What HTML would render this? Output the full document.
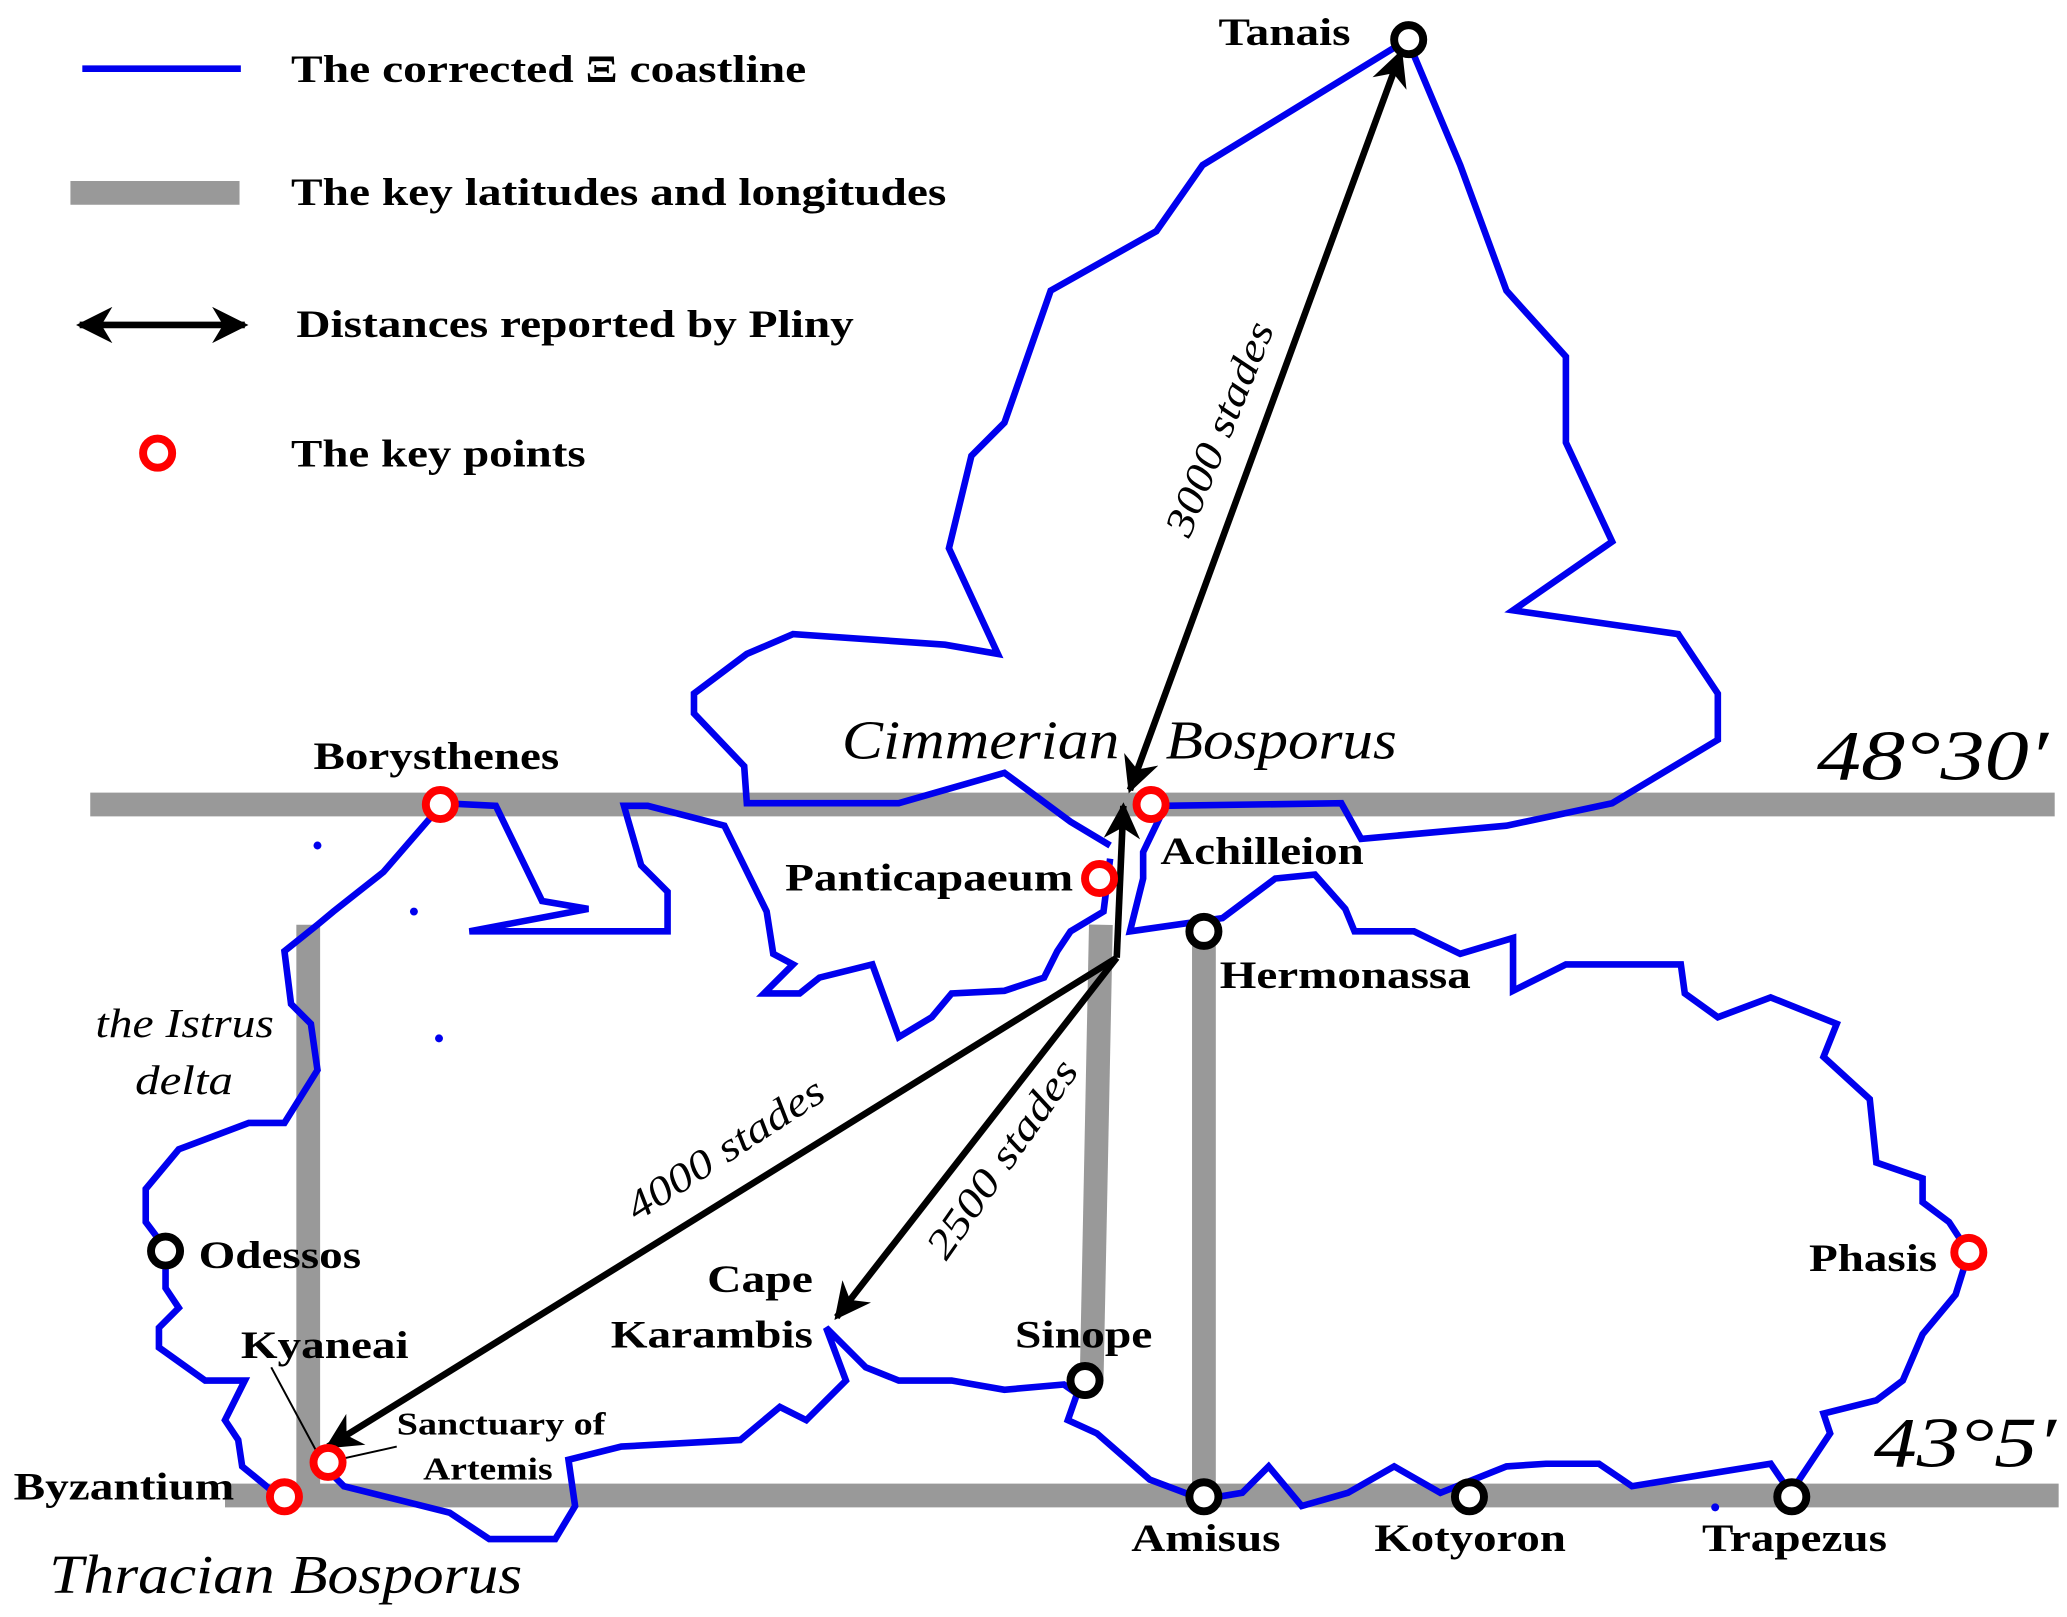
<!DOCTYPE html>
<html><head><meta charset="utf-8"><style>
html,body{margin:0;padding:0;background:#fff}
svg{display:block}
text{font-family:"Liberation Serif",serif;fill:#000}
.b{font-weight:bold;font-size:30px}
.i{font-style:italic}
</style></head><body>
<svg width="2067" height="1617" viewBox="0 0 1564 1224" xmlns="http://www.w3.org/2000/svg">
<defs>
<marker id="a" viewBox="0 0 10 10" refX="9" refY="5" markerWidth="5.5" markerHeight="5.5" orient="auto-start-reverse"><path d="M0,0 L10,5 L0,10 L3,5 Z" fill="#000"/></marker>
</defs>
<g stroke="#999" stroke-width="18" fill="none">
<line x1="68" y1="609" x2="1555" y2="609"/>
<line x1="170" y1="1132" x2="1558" y2="1132"/>
<line x1="233" y1="700" x2="233" y2="1140"/>
<line x1="833" y1="700" x2="826" y2="1045"/>
<line x1="911" y1="700" x2="911" y2="1132"/>
</g>
<g stroke="#0000ee" stroke-width="5" fill="none" stroke-linejoin="miter">
<polyline points="840,640 810,622 760,585 680,608 565,608 563,580 525,540 525,525 565,495 600,480 715,488 755,495 718,415 735,345 760,320 795,220 875,175 910,125 1065,30 1105,125 1140,220 1185,270 1185,335 1220,410 1145,462 1270,480 1300,525 1300,560 1220,608 1140,625 1030,635 1015,608 880,610"/>
<polyline points="840,650 835,690 810,705 800,720 790,740 760,750 720,752 705,770 680,785 660,730 620,740 605,752 578,752 600,730 585,722 580,690 548,625 490,610 472,610 485,655 505,675 505,705 355,705 445,688 410,682 375,610 335,608 290,660 252,690 240,700 215,720 220,760 235,775 240,810 215,850 188,850 135,870 110,900 110,925 125,945 125,975 135,990 120,1005 120,1020 155,1045 185,1045 170,1075 180,1090 183,1110 205,1128"/>
<polyline points="245,1110 260,1125 300,1135 340,1145 370,1165 420,1165 435,1140 430,1105 470,1095 560,1090 590,1065 610,1075 640,1045 625,1005 655,1035 680,1045 720,1045 760,1052 805,1048 815,1055 808,1075 830,1085 870,1120 910,1135 940,1130 960,1110 985,1140 1020,1130 1055,1110 1090,1130 1140,1110 1170,1108 1210,1108 1235,1125 1340,1108 1355,1130 1375,1100 1385,1085 1380,1070 1420,1060 1440,1045 1455,1010 1480,980 1490,948 1475,925 1455,910 1455,892 1420,880 1415,832 1380,800 1390,775 1340,755 1300,770 1275,752 1272,730 1185,730 1145,750 1145,710 1105,722 1070,705 1025,705 1018,688 995,662 965,665 925,695 855,705 865,665 865,645 878,618"/>
<line x1="62" y1="52" x2="182" y2="52"/>
</g>
<g fill="#0000ee"><circle cx="240" cy="640" r="3"/><circle cx="313" cy="690" r="3"/><circle cx="332" cy="786" r="3"/><circle cx="1298" cy="1141" r="3"/></g>
<line x1="53" y1="146" x2="181" y2="146" stroke="#999" stroke-width="18"/>
<g stroke="#000" stroke-width="5" fill="none">
<line x1="60" y1="246" x2="185" y2="246" marker-start="url(#a)" marker-end="url(#a)"/>
<line x1="855" y1="598" x2="1060" y2="40" marker-start="url(#a)" marker-end="url(#a)"/>
<polyline points="845,725 850,610" marker-end="url(#a)"/>
<line x1="845" y1="725" x2="248" y2="1095" marker-end="url(#a)"/>
<line x1="845" y1="725" x2="633" y2="997" marker-end="url(#a)"/>
</g>
<g stroke="#000" stroke-width="1.5"><line x1="205" y1="1035" x2="240" y2="1100"/><line x1="255" y1="1105" x2="300" y2="1095"/></g>
<g fill="#fff" stroke-width="6">
<g stroke="#f00"><circle cx="119" cy="343" r="11"/><circle cx="333" cy="609" r="11"/><circle cx="871" cy="609" r="11"/><circle cx="832" cy="665" r="11"/><circle cx="1490" cy="948" r="11"/><circle cx="248" cy="1107" r="11"/><circle cx="215" cy="1133" r="11"/></g>
<g stroke="#000"><circle cx="1066" cy="30" r="11"/><circle cx="911" cy="705" r="11"/><circle cx="125" cy="947" r="11"/><circle cx="821" cy="1045" r="11"/><circle cx="911" cy="1133" r="11"/><circle cx="1112" cy="1133" r="11"/><circle cx="1356" cy="1133" r="11"/></g>
</g>
<g lengthAdjust="spacingAndGlyphs">
<text class="b" x="220" y="62" textLength="390" lengthAdjust="spacingAndGlyphs">The corrected Ξ coastline</text>
<text class="b" x="220" y="155" textLength="496" lengthAdjust="spacingAndGlyphs">The key latitudes and longitudes</text>
<text class="b" x="224" y="255" textLength="422" lengthAdjust="spacingAndGlyphs">Distances reported by Pliny</text>
<text class="b" x="220" y="353" textLength="223" lengthAdjust="spacingAndGlyphs">The key points</text>
<text class="b" x="922" y="34" textLength="100" lengthAdjust="spacingAndGlyphs">Tanais</text>
<text class="b" x="237" y="582" textLength="186" lengthAdjust="spacingAndGlyphs">Borysthenes</text>
<text class="b" x="594" y="674" textLength="218" lengthAdjust="spacingAndGlyphs">Panticapaeum</text>
<text class="b" x="878" y="654" textLength="154" lengthAdjust="spacingAndGlyphs">Achilleion</text>
<text class="b" x="923" y="748" textLength="190" lengthAdjust="spacingAndGlyphs">Hermonassa</text>
<text class="b" x="150" y="960" textLength="123" lengthAdjust="spacingAndGlyphs">Odessos</text>
<text class="b" x="1369" y="962" textLength="97" lengthAdjust="spacingAndGlyphs">Phasis</text>
<text class="b" x="535" y="978" textLength="80" lengthAdjust="spacingAndGlyphs">Cape</text>
<text class="b" x="462" y="1020" textLength="153" lengthAdjust="spacingAndGlyphs">Karambis</text>
<text class="b" x="768" y="1020" textLength="104" lengthAdjust="spacingAndGlyphs">Sinope</text>
<text class="b" x="182" y="1028" textLength="127" lengthAdjust="spacingAndGlyphs">Kyaneai</text>
<text class="b" x="10" y="1135" textLength="167" lengthAdjust="spacingAndGlyphs">Byzantium</text>
<text class="b" x="856" y="1174" textLength="113" lengthAdjust="spacingAndGlyphs">Amisus</text>
<text class="b" x="1040" y="1174" textLength="145" lengthAdjust="spacingAndGlyphs">Kotyoron</text>
<text class="b" x="1288" y="1174" textLength="140" lengthAdjust="spacingAndGlyphs">Trapezus</text>
<text x="300" y="1086" font-weight="bold" font-size="24" textLength="158" lengthAdjust="spacingAndGlyphs">Sanctuary of</text>
<text x="320" y="1120" font-weight="bold" font-size="24" textLength="98" lengthAdjust="spacingAndGlyphs">Artemis</text>
<text class="i" x="637" y="574" font-size="42" textLength="210" lengthAdjust="spacingAndGlyphs">Cimmerian</text>
<text class="i" x="882" y="574" font-size="42" textLength="175" lengthAdjust="spacingAndGlyphs">Bosporus</text>
<text class="i" x="37" y="1206" font-size="42" textLength="358" lengthAdjust="spacingAndGlyphs">Thracian Bosporus</text>
<text class="i" x="1375" y="590" font-size="54" textLength="175" lengthAdjust="spacingAndGlyphs">48°30′</text>
<text class="i" x="1418" y="1110" font-size="54" textLength="138" lengthAdjust="spacingAndGlyphs">43°5′</text>
<text class="i" x="72" y="785" font-size="31" textLength="135" lengthAdjust="spacingAndGlyphs">the Istrus</text>
<text class="i" x="102" y="828" font-size="31" textLength="74" lengthAdjust="spacingAndGlyphs">delta</text>
<text class="i" font-size="31" transform="translate(900,408) rotate(-68)" textLength="172" lengthAdjust="spacingAndGlyphs">3000 stades</text>
<text class="i" font-size="31" transform="translate(482,925) rotate(-33)" textLength="172" lengthAdjust="spacingAndGlyphs">4000 stades</text>
<text class="i" font-size="31" transform="translate(716,955) rotate(-55)" textLength="176" lengthAdjust="spacingAndGlyphs">2500 stades</text>
</g>
</svg>
</body></html>
